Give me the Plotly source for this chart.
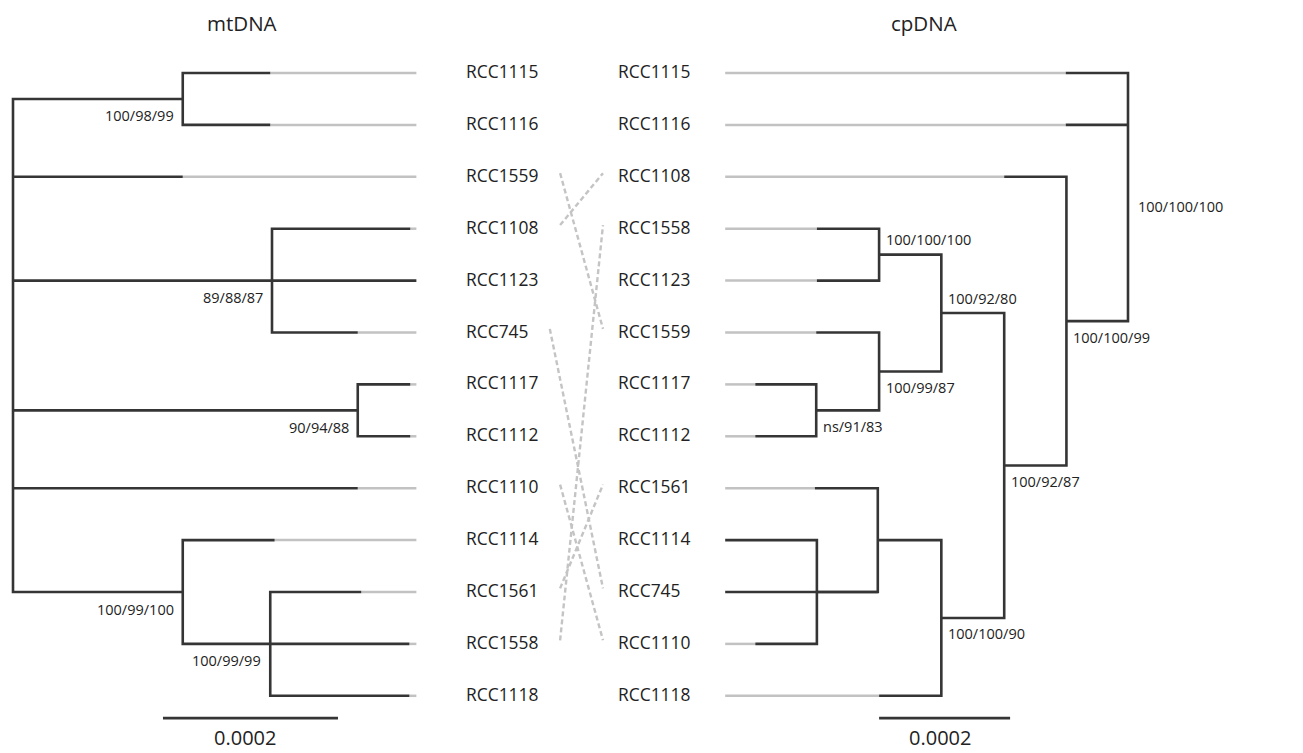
import plotly.graph_objects as go

# ---------------- data ----------------
# mtDNA tree (left). depth = distance from root, in units of 1e-4 substitutions/site
mt_names   = ["root", "A", "RCC1115", "RCC1116", "RCC1559", "B", "RCC1108", "RCC1123", "RCC745",
              "C", "RCC1117", "RCC1112", "RCC1110", "D", "RCC1114", "E", "RCC1561", "RCC1558", "RCC1118"]
mt_parents = [None, "root", "A", "A", "root", "root", "B", "B", "B",
              "root", "C", "C", "root", "root", "D", "D", "E", "E", "E"]
mt_depth   = [0, 1.94, 2.94, 2.94, 1.94, 2.96, 4.54, 4.61, 3.94,
              3.94, 4.54, 4.54, 3.94, 1.94, 2.99, 2.94, 3.98, 4.53, 4.53]
mt_order   = ["RCC1115", "RCC1116", "RCC1559", "RCC1108", "RCC1123", "RCC745", "RCC1117",
              "RCC1112", "RCC1110", "RCC1114", "RCC1561", "RCC1558", "RCC1118"]
mt_support_nodes = ["A", "B", "C", "D", "E"]
mt_support       = ["100/98/99", "89/88/87", "90/94/88", "100/99/100", "100/99/99"]

# cpDNA tree (right, mirrored)
cp_names   = ["root", "RCC1115", "RCC1116", "N2", "RCC1108", "N3", "N4", "N5", "RCC1558", "RCC1123",
              "N6", "RCC1559", "N7", "RCC1117", "RCC1112", "N8", "N9", "RCC1561", "RCC745",
              "N10", "RCC1114", "RCC1110", "RCC1118"]
cp_parents = [None, "root", "root", "root", "N2", "N2", "N3", "N4", "N5", "N5",
              "N4", "N6", "N6", "N7", "N7", "N3", "N8", "N9", "N9",
              "N9", "N10", "N10", "N8"]
cp_depth   = [0, 0.95, 0.95, 0.94, 1.89, 1.89, 2.85, 3.80, 4.75, 4.75,
              3.80, 4.76, 4.76, 5.69, 5.69, 2.85, 3.82, 4.78, 6.15,
              4.75, 6.15, 5.69, 3.80]
cp_order   = ["RCC1115", "RCC1116", "RCC1108", "RCC1558", "RCC1123", "RCC1559", "RCC1117",
              "RCC1112", "RCC1561", "RCC1114", "RCC745", "RCC1110", "RCC1118"]
cp_support_nodes = ["root", "N2", "N3", "N4", "N5", "N6", "N7", "N8"]
cp_support       = ["100/100/100", "100/100/99", "100/92/87", "100/92/80", "100/100/100",
                    "100/99/87", "ns/91/83", "100/100/90"]

tree_titles = ["mtDNA", "cpDNA"]
scale_value = 2.0          # 0.0002 in units of 1e-4
scale_label = "0.0002"

# ---------------- layout constants ----------------
W, H = 1303, 753
ROW0_PX, ROW_PX = 73.0, 51.9
L_ROOT_PX, L_PPU = 13.0, 87.5
R_ROOT_PX, R_PPU = 1128.0, 65.5
LEFT_LABEL_PX, RIGHT_LABEL_PX = 464, 616
FONT = "Open Sans"
DARK = "#353535"
GRAY = "#c2c2c2"
TXT = "#222222"


def build(names, parents, depth, order):
    children = {n: [] for n in names}
    for n, p in zip(names, parents):
        if p is not None:
            children[p].append(n)
    x = dict(zip(names, depth))
    y = {}

    def gy(n):
        if n not in y:
            if children[n]:
                ys = [gy(c) for c in children[n]]
                y[n] = (min(ys) + max(ys)) / 2
            else:
                y[n] = order.index(n)
        return y[n]

    for n in names:
        gy(n)
    align = max(depth)
    dx, dy, gx, gyy = [], [], [], []
    for n in names:
        ch = sorted(children[n], key=lambda c: y[c])
        if not ch:
            if x[n] < align:
                gx += [x[n], align, None]
                gyy += [y[n], y[n], None]
            continue
        f, l = ch[0], ch[-1]
        dx += [x[f], x[n], x[n], x[l], None]
        dy += [y[f], y[f], y[l], y[l], None]
        for c in ch[1:-1]:
            dx += [x[n], x[c], None]
            dy += [y[c], y[c], None]
    return x, y, children, (dx, dy), (gx, gyy)


fig = go.Figure()

mx, my, mch, mdark, mgray = build(mt_names, mt_parents, mt_depth, mt_order)
cx, cy, cch, cdark, cgray = build(cp_names, cp_parents, cp_depth, cp_order)

for (gx, gyv), (dx, dyv), xa in [(mgray, mdark, "x"), (cgray, cdark, "x2")]:
    fig.add_trace(go.Scatter(x=gx, y=gyv, mode="lines", xaxis=xa, yaxis="y",
                             line=dict(color=GRAY, width=2.5), hoverinfo="skip"))
    fig.add_trace(go.Scatter(x=dx, y=dyv, mode="lines", xaxis=xa, yaxis="y",
                             line=dict(color=DARK, width=2.6), hoverinfo="skip"))

# connectors between differently placed taxa
def est_w(s):
    return len(s) * 10.3

cxs, cys = [], []
for name in mt_order:
    r1, r2 = mt_order.index(name), cp_order.index(name)
    if r1 != r2:
        cxs += [466 + est_w(name) + 22, 603, None]
        cys += [r1 - 0.07, r2 - 0.07, None]
fig.add_trace(go.Scatter(x=cxs, y=cys, mode="lines", xaxis="x3", yaxis="y",
                         line=dict(color="#c4c4c4", width=2.4, dash="5px,3px"), hoverinfo="skip"))

ann = []
# leaf labels
for i, n in enumerate(mt_order):
    ann.append(dict(x=LEFT_LABEL_PX, y=i, xref="x3", yref="y", text=n, showarrow=False,
                    xanchor="left", yanchor="middle", yshift=2,
                    font=dict(family=FONT, size=17.4, color=TXT)))
for i, n in enumerate(cp_order):
    ann.append(dict(x=RIGHT_LABEL_PX, y=i, xref="x3", yref="y", text=n, showarrow=False,
                    xanchor="left", yanchor="middle", yshift=2,
                    font=dict(family=FONT, size=17.4, color=TXT)))

# support values, mtDNA: below-left of node
for n, t in zip(mt_support_nodes, mt_support):
    ann.append(dict(x=mx[n], y=my[n], xref="x", yref="y", text=t, showarrow=False,
                    xanchor="right", yanchor="middle", xshift=-7, yshift=-17,
                    font=dict(family=FONT, size=14.5, color=TXT)))

# support values, cpDNA
cp_place = {"root": "side", "N2": "below", "N3": "below", "N4": "above", "N5": "above",
            "N6": "below", "N7": "below", "N8": "below"}
for n, t in zip(cp_support_nodes, cp_support):
    ys = [cy[c] for c in cch[n]]
    pl = cp_place[n]
    if pl == "side":
        yv, ysh, xsh = (min(ys) + max(ys)) / 2, -9, 8
    elif pl == "above":
        yv, ysh, xsh = cy[n], 15, 5
    else:
        yv, ysh, xsh = cy[n], -16, 5
    ann.append(dict(x=cx[n], y=yv, xref="x2", yref="y", text=t, showarrow=False,
                    xanchor="left", yanchor="middle", xshift=xsh, yshift=ysh,
                    font=dict(family=FONT, size=14.5, color=TXT)))

# scale bars
SCALE_ROW = 12.43
for xa, start in [("x", 1.714), ("x2", 3.80)]:
    end = start + scale_value if xa == "x" else start - scale_value
    fig.add_trace(go.Scatter(x=[start, end], y=[SCALE_ROW, SCALE_ROW], mode="lines", xaxis=xa, yaxis="y",
                             line=dict(color=DARK, width=2.6), hoverinfo="skip"))
    ann.append(dict(x=(start + end) / 2, y=SCALE_ROW, xref=xa, yref="y", text=scale_label,
                    showarrow=False, xanchor="center", yanchor="middle", yshift=-19, xshift=-5,
                    borderpad=0, font=dict(family=FONT, size=20, color=TXT)))

# titles
for t, px in zip(tree_titles, [242, 924]):
    ann.append(dict(x=px / W, y=1 - 23 / H, xref="paper", yref="paper", text=t, showarrow=False,
                    xanchor="center", yanchor="middle", font=dict(family=FONT, size=20.5, color=TXT)))

ax_common = dict(visible=False, showgrid=False, zeroline=False, fixedrange=True, domain=[0, 1])
fig.update_layout(
    width=W, height=H, margin=dict(l=0, r=0, t=0, b=0),
    plot_bgcolor="white", paper_bgcolor="white", showlegend=False,
    xaxis=dict(range=[-L_ROOT_PX / L_PPU, (W - L_ROOT_PX) / L_PPU], **ax_common),
    xaxis2=dict(range=[R_ROOT_PX / R_PPU, (R_ROOT_PX - W) / R_PPU], overlaying="x", **ax_common),
    xaxis3=dict(range=[0, W], overlaying="x", **ax_common),
    yaxis=dict(range=[(H - ROW0_PX) / ROW_PX, -ROW0_PX / ROW_PX], visible=False, fixedrange=True,
               showgrid=False, zeroline=False, domain=[0, 1]),
    annotations=ann,
)

fig.write_html("out.html", config={"displayModeBar": False},
               post_script="document.body.style.margin='0';")
